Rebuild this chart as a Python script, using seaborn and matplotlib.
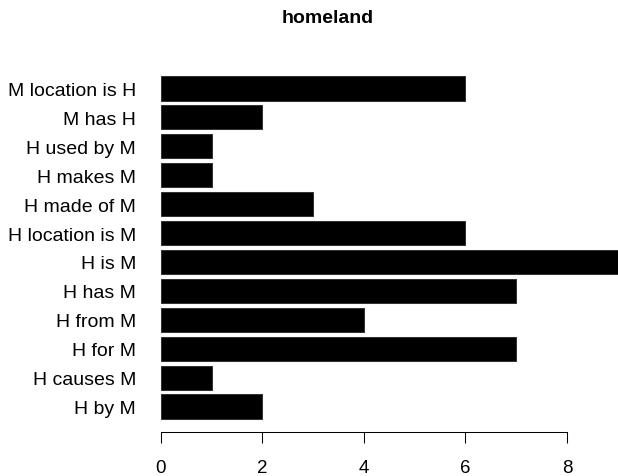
import matplotlib
matplotlib.use("Agg")
import matplotlib.pyplot as plt
import seaborn as sns

# relation counts, listed top to bottom as in the chart
relations = ["M location is H", "M has H", "H used by M", "H makes M", "H made of M",
             "H location is M", "H is M", "H has M", "H from M", "H for M",
             "H causes M", "H by M"]
counts = [6, 2, 1, 1, 3, 6, 9, 7, 4, 7, 1, 2]
xticks = [0, 2, 4, 6, 8]

sns.set_style("white")
plt.rcParams['font.family'] = ['Liberation Sans', 'DejaVu Sans']

fig = plt.figure(figsize=(6.18, 4.77), dpi=100)
W, H = 618, 477
left, right, top, bottom = 142.7, 636.0, 63.8, 433.2
ax = fig.add_axes([left / W, 1 - bottom / H, (right - left) / W, (bottom - top) / H])

sns.barplot(x=counts, y=relations, orient="h", color="black", saturation=1,
            width=0.833, edgecolor="#333333", linewidth=0.75, ax=ax)

ax.set_xlim(-0.36, 9.36)
ax.set_ylim(11.89, -0.889)
ax.set_xticks(xticks)
ax.set_xlabel("")
ax.set_ylabel("")
for s in ["top", "right", "left"]:
    ax.spines[s].set_visible(False)
ax.spines["bottom"].set_bounds(0, 8)
ax.spines["bottom"].set_linewidth(0.75)
ax.spines["bottom"].set_color("black")
ax.tick_params(axis="x", length=7.9, width=0.75, color="black", pad=11.5,
               labelsize=13.5, labelcolor="black", bottom=True)
ax.tick_params(axis="y", length=0, pad=4.8, labelsize=14, labelcolor="black")

fig.text(327.5 / W, 1 - 18.5 / H, "homeland", ha="center", va="center",
         fontsize=14, fontweight="bold", color="black")

fig.savefig("out.png", dpi=100)
